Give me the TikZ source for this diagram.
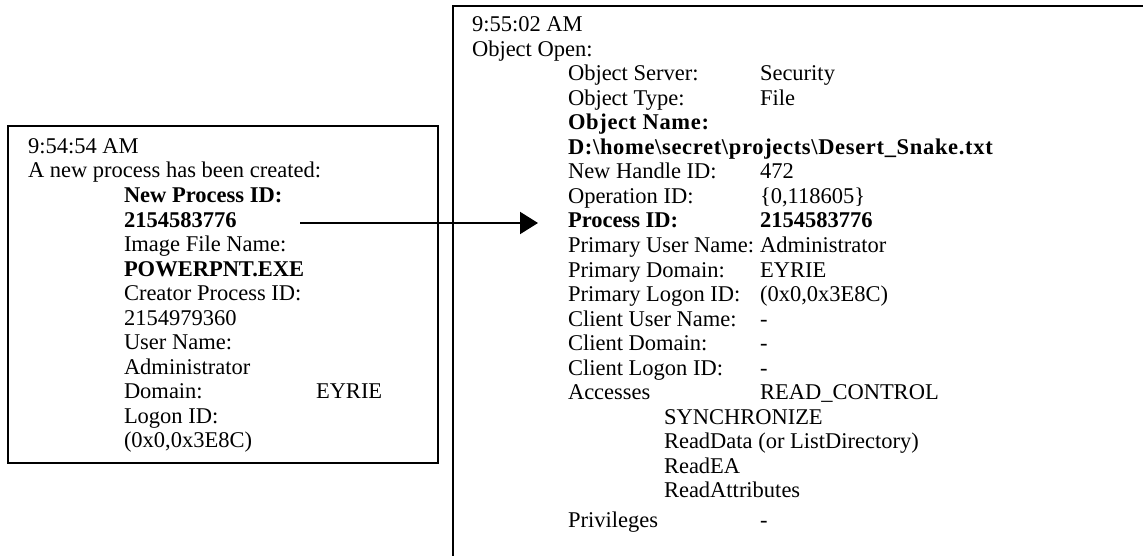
\documentclass[tikz,border=0pt]{standalone}
\usepackage{fontspec}
\setmainfont{Liberation Serif}
\usetikzlibrary{arrows.meta}
\tikzset{
  txt/.style={anchor=base west, inner sep=0pt, outer sep=0pt, font=\fontsize{22.5}{27}\selectfont},
  btxt/.style={txt, font=\fontsize{22.5}{27}\selectfont\bfseries},
  sbtxt/.style={txt, font=\fontsize{22.5}{27}\selectfont\bfseries\addfontfeatures{LetterSpace=3}},
  frame/.style={draw=black, line width=2pt, fill=none, inner sep=0pt, anchor=north west},
  link/.style={line width=2pt, -{Triangle[length=18pt,width=22pt]}}
}
\begin{document}
\begin{tikzpicture}[x=1pt,y=-1pt]
\useasboundingbox (0,0) rectangle (1143,556);
\clip (0,0) rectangle (1143,556);
% boxes
\node[frame, minimum width=430pt, minimum height=337pt] (leftbox) at (7,125) {};
\node[frame, minimum width=760pt, minimum height=620pt] (rightbox) at (452,5) {};
% left box text
\node[txt]  (l1)  at (28,153.5) {9:54:54 AM};
\node[txt]  (l2)  at (28,178) {A new process has been created:};
\node[btxt] (l3)  at (124,202.5) {New Process ID:};
\node[btxt] (l4)  at (124,227) {2154583776};
\node[txt]  (l5)  at (124,251.5) {Image File Name:};
\node[btxt] (l6)  at (124,276) {POWERPNT.EXE};
\node[txt]  (l7)  at (124,300.5) {Creator Process ID:};
\node[txt]  (l8)  at (124,325) {2154979360};
\node[txt]  (l9)  at (124,349.5) {User Name:};
\node[txt]  (l10) at (124,374) {Administrator};
\node[txt]  (l11) at (124,398.5) {Domain:};
\node[txt]  (l11v) at (316,398.5) {EYRIE};
\node[txt]  (l12) at (124,423) {Logon ID:};
\node[txt]  (l13) at (124,447.5) {(0x0,0x3E8C)};
% right box text
\node[txt]  (r1)  at (472,32) {9:55:02 AM};
\node[txt]  (r2)  at (472,56.5) {Object Open:};
\node[txt]  (r3)  at (568,81) {Object Server:};
\node[txt]  (r3v) at (760,81) {Security};
\node[txt]  (r4)  at (568,105.5) {Object Type:};
\node[txt]  (r4v) at (760,105.5) {File};
\node[sbtxt] (r5) at (568,130) {Object Name:};
\node[sbtxt] (r6) at (568,154.5) {D:\textbackslash home\textbackslash secret\textbackslash projects\textbackslash Desert\_Snake.txt};
\node[txt]  (r7)  at (568,179) {New Handle ID:};
\node[txt]  (r7v) at (760,179) {472};
\node[txt]  (r8)  at (568,203.5) {Operation ID:};
\node[txt]  (r8v) at (760,203.5) {\{0,118605\}};
\node[btxt] (rpid) at (568,228) {Process ID:};
\node[btxt] (rpidv) at (760,228) {2154583776};
\node[txt]  (r10) at (568,252.5) {Primary User Name:};
\node[txt]  (r10v) at (760,252.5) {Administrator};
\node[txt]  (r11) at (568,277) {Primary Domain:};
\node[txt]  (r11v) at (760,277) {EYRIE};
\node[txt]  (r12) at (568,301.5) {Primary Logon ID:};
\node[txt]  (r12v) at (760,301.5) {(0x0,0x3E8C)};
\node[txt]  (r13) at (568,326) {Client User Name:};
\node[txt]  (r13v) at (760,326) {-};
\node[txt]  (r14) at (568,350.5) {Client Domain:};
\node[txt]  (r14v) at (760,350.5) {-};
\node[txt]  (r15) at (568,375) {Client Logon ID:};
\node[txt]  (r15v) at (760,375) {-};
\node[txt]  (r16) at (568,399.5) {Accesses};
\node[txt]  (r16v) at (760,399.5) {READ\_CONTROL};
\node[txt]  (r17) at (664,424) {SYNCHRONIZE};
\node[txt]  (r18) at (664,448.5) {ReadData (or ListDirectory)};
\node[txt]  (r19) at (664,473) {ReadEA};
\node[txt]  (r20) at (664,497.5) {ReadAttributes};
\node[txt]  (r21) at (568,527) {Privileges};
\node[txt]  (r21v) at (760,527) {-};
% connector
\coordinate (astart) at (300,223);
\coordinate (atip) at (538,223);
\draw[link] (astart) -- (atip);
\end{tikzpicture}
\end{document}
